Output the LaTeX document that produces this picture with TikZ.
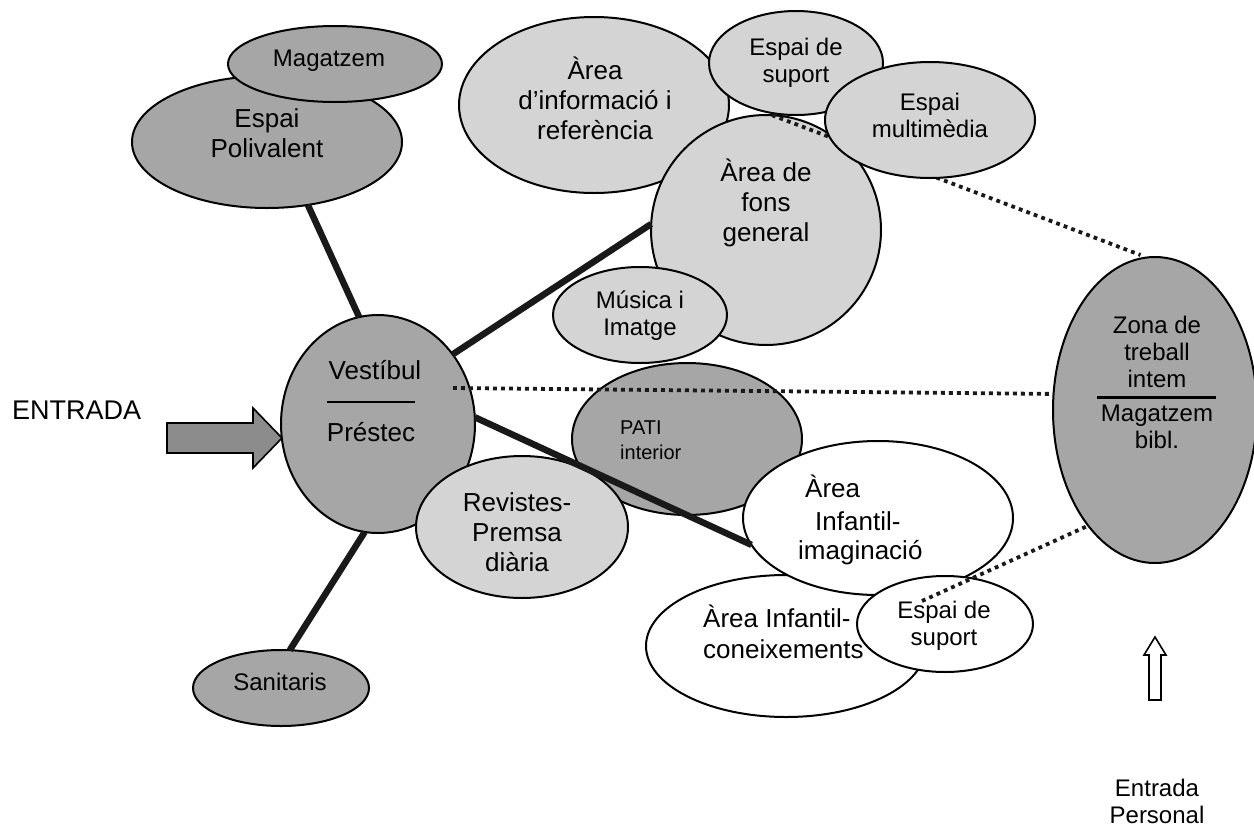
\documentclass[tikz,border=0pt]{standalone}
\usepackage{fontspec}
\setmainfont{Liberation Sans}
\usetikzlibrary{shapes.geometric}
\definecolor{darkfill}{gray}{0.65}
\definecolor{lightfill}{gray}{0.83}
\definecolor{arrowfill}{gray}{0.55}
\begin{document}
\begin{tikzpicture}[x=1pt,y=-1pt,
  ell/.style 2 args={ellipse, draw=black, line width=2pt, inner sep=0pt, outer sep=0pt, minimum width=#1pt, minimum height=#2pt},
  dark/.style={fill=darkfill},
  light/.style={fill=lightfill},
  blank/.style={fill=white},
  link/.style={line width=6.5pt, black!90},
  dotline/.style={line width=3.8pt, dash pattern=on 3.8pt off 4.2pt, black!90},
  txt/.style={inner sep=0pt, align=center},
  fA/.style={font=\fontsize{26}{30}\selectfont},
  fB/.style={font=\fontsize{24}{27}\selectfont},
  fC/.style={font=\fontsize{20}{25}\selectfont},
]
\useasboundingbox (0,0) rectangle (1254,828);

% right-hand zone (defined early for the dotted link under the multimedia space)
\node[ell={204}{306}, dark] (zona) at (1155,410) {};

% upper left
\node[ell={270}{132}, dark] (esp) at (267,142) {};
\node[ell={214}{76}, dark] (mag) at (335,64) {};

% upper middle group
\node[ell={270}{176}, light] (info) at (594,105) {};
\node[ell={174}{104}, light] (sup1) at (796,63) {};
\node[ell={230}{230}, light] (fons) at (766,230) {};
\node[ell={174}{96}, light] (mus) at (640,315) {};
\draw[dotline, shorten >=7pt] (fons.87) -- (zona.93);
\node[ell={210}{116}, light] (mult) at (930,120) {};

% centre
\node[ell={194}{218}, dark] (vest) at (378,424) {};
\node[ell={230}{152}, dark] (pati) at (687,439) {};
\node[ell={212}{142}, light] (rev) at (522,527) {};

% children areas
\node[ell={280}{142}, blank] (con) at (786,646) {};
\node[ell={270}{154}, blank] (imag) at (878,518) {};
\node[ell={176}{96}, blank] (sup2) at (945,624) {};

\node[ell={176}{76}, dark] (san) at (281,688) {};

% connectors
\draw[link] (esp.-57) -- (vest.100);
\draw[link] (vest.43) -- (fons.177);
\draw[link] (vest.4) -- (imag.192);
\draw[link] (vest.-97) -- (san.77);

\coordinate (dv) at (453,388);
\coordinate (ds) at (922,601);
\draw[dotline] (dv) -- (zona.171);
\draw[dotline] (ds) -- (zona.240);

% entrance arrow
\draw[fill=arrowfill, line width=1.6pt] (167,423) -- (253,423) -- (253,408) -- (282,438) -- (253,468) -- (253,453) -- (167,453) -- cycle;
% staff entrance arrow
\draw[fill=white, line width=1.6pt] (1149,700) -- (1149,655) -- (1144,655) -- (1155,637) -- (1166,655) -- (1161,655) -- (1161,700) -- cycle;

% rules
\draw[line width=1.2pt] (327,402) -- (415,402);
\draw[line width=3pt] (1097,397) -- (1216,397);

% texts
\node[txt, fB] (tmag) at (329,61) {Magatzem};
\node[txt, fA] (tesp) at (267,133) {Espai\\Polivalent};
\node[txt, fA] (tinfo) at (595,98) {Àrea\\d'informació i\\referència};
\node[txt, fB] (tsup1) at (796,63) {Espai de\\suport};
\node[txt, fB] (tmult) at (930,115) {Espai\\multimèdia};
\node[txt, fA] (tfons) at (766,203) {Àrea de\\fons\\general};
\node[txt, fB] (tmus) at (640,316) {Música i\\Imatge};
\node[txt, fA] (tvest) at (375,370) {Vestíbul};
\node[txt, fA] (tpres) at (371,432) {Préstec};
\node[txt, fA] (trev) at (517,532) {Revistes-\\Premsa\\diària};
\node[txt, fC, align=left, anchor=west] (tpati) at (620,440) {PATI\\interior};
\node[txt, fB] (tzona) at (1157,352) {Zona de\\treball\\intem};
\node[txt, fB] (tbibl) at (1157,427) {Magatzem\\bibl.};
\node[txt, fB] (tsan) at (280,682) {Sanitaris};
\node[txt, fA, anchor=base west] (ti1) at (805,497) {Àrea};
\node[txt, fA, anchor=base west] (ti2) at (815,530) {Infantil-};
\node[txt, fA, anchor=base west] (ti3) at (798,559) {imaginació};
\node[txt, fA, anchor=base west] (tc1) at (703,627) {Àrea Infantil-};
\node[txt, fA, anchor=base west] (tc2) at (703,658) {coneixements};
\node[txt, fB] (tsup2) at (944,626) {Espai de\\suport};
\node[txt, fB] (tpers) at (1157,801) {Entrada\\Personal};
\node[txt, font=\fontsize{27}{30}\selectfont, anchor=west] (tent) at (12,410) {ENTRADA};
\end{tikzpicture}
\end{document}
